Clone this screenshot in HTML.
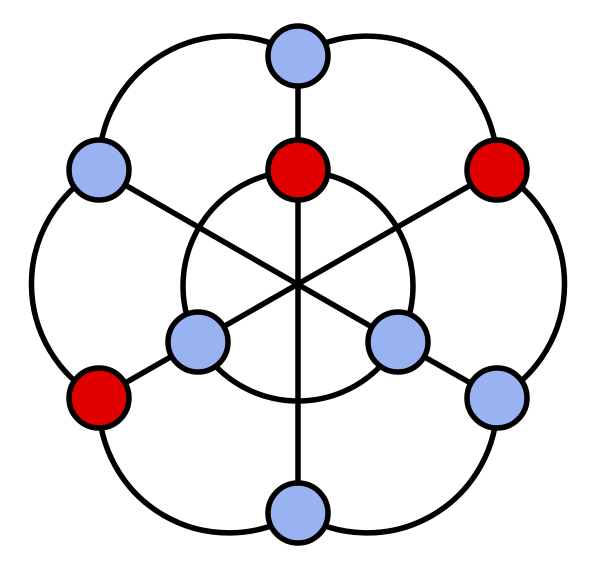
<!DOCTYPE html>
<html><head><style>html,body{margin:0;padding:0;background:#fff;}svg{display:block}</style></head>
<body>
<svg width="600" height="572" viewBox="0 0 600 572" xmlns="http://www.w3.org/2000/svg">
<g fill="none" stroke="#000" stroke-width="5.5">
<circle cx="298" cy="286" r="115"/>
<path d="M298,56 A130,130 0 0,1 497,170 A130,130 0 0,1 497,398 A130,130 0 0,1 298,513 A130,130 0 0,1 99,398 A130,130 0 0,1 99,170 A130,130 0 0,1 298,56"/>
<line x1="298" y1="56" x2="298" y2="513"/>
<line x1="99" y1="170" x2="398" y2="342"/>
<line x1="398" y1="342" x2="497" y2="398"/>
<line x1="497" y1="170" x2="99" y2="398"/>
</g>
<g stroke="#000" stroke-width="5.5">
<circle cx="298" cy="56" r="30" fill="#99b3f2"/>
<circle cx="298" cy="170" r="30" fill="#e00000"/>
<circle cx="497" cy="170" r="30" fill="#e00000"/>
<circle cx="99" cy="170" r="30" fill="#99b3f2"/>
<circle cx="198" cy="342" r="30" fill="#99b3f2"/>
<circle cx="398" cy="342" r="30" fill="#99b3f2"/>
<circle cx="99" cy="398" r="30" fill="#e00000"/>
<circle cx="497" cy="398" r="30" fill="#99b3f2"/>
<circle cx="298" cy="513" r="30" fill="#99b3f2"/>
</g>
</svg>
</body></html>
